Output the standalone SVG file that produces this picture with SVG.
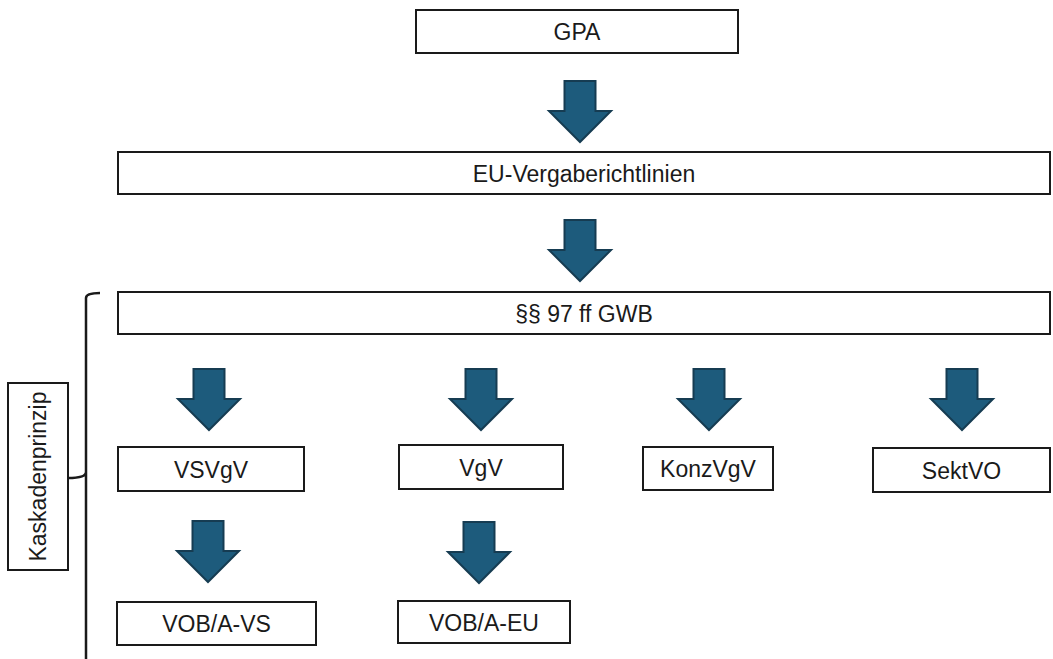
<svg xmlns="http://www.w3.org/2000/svg" width="1053" height="659" viewBox="0 0 1053 659">
<style>
.box{fill:#fff;stroke:#1a1a1a;stroke-width:2}
.lbl{font-family:"Liberation Sans",Arial,sans-serif;font-size:23px;fill:#1a1a1a;text-anchor:middle}
.arr{fill:#1d5b7c;stroke:#163c52;stroke-width:2;stroke-linejoin:miter}
.br{fill:none;stroke:#1a1a1a;stroke-width:2.5}
</style>
<defs>
<path id="dn" class="arr" d="M-15.5,0 H15.5 V30 H31 L0,61 L-31,30 H-15.5 Z"/>
</defs>
<rect width="1053" height="659" fill="#fff"/>
<g id="connectors">
<use href="#dn" x="580" y="81"/>
<use href="#dn" x="580" y="220"/>
<use href="#dn" x="209" y="369"/>
<use href="#dn" x="481" y="369"/>
<use href="#dn" x="709" y="369"/>
<use href="#dn" x="962" y="369"/>
<use href="#dn" x="208" y="521"/>
<use href="#dn" x="479" y="522"/>
<path class="br" d="M100,293 Q86,293 86,298 V472 Q86,478 68,478 M86,472 Q86,478 86,484 V659"/>
</g>
<g id="gpa"><rect class="box" x="416" y="10" width="322" height="43"/><text class="lbl" x="577" y="40">GPA</text></g>
<g id="eu"><rect class="box" x="118" y="152" width="932" height="42"/><text class="lbl" x="584" y="181.5">EU-Vergaberichtlinien</text></g>
<g id="gwb"><rect class="box" x="118" y="292" width="932" height="42"/><text class="lbl" x="584" y="321.5">§§ 97 ff GWB</text></g>
<g id="vsvgv"><rect class="box" x="118" y="447" width="186" height="44"/><text class="lbl" x="211" y="477.5">VSVgV</text></g>
<g id="vgv"><rect class="box" x="399" y="445" width="164" height="44"/><text class="lbl" x="481" y="475.5">VgV</text></g>
<g id="konzvgv"><rect class="box" x="643" y="447" width="130" height="43"/><text class="lbl" x="708" y="477">KonzVgV</text></g>
<g id="sektvo"><rect class="box" x="873" y="448" width="177" height="44"/><text class="lbl" x="961.5" y="478.5">SektVO</text></g>
<g id="vobavs"><rect class="box" x="117" y="602" width="199" height="43"/><text class="lbl" x="216.5" y="632">VOB/A-VS</text></g>
<g id="vobaeu"><rect class="box" x="398" y="601" width="172" height="42"/><text class="lbl" x="484" y="630.5">VOB/A-EU</text></g>
<g id="kaskade"><rect class="box" x="8" y="383" width="60" height="187"/><text class="lbl" transform="translate(46,476.5) rotate(-90)">Kaskadenprinzip</text></g>
</svg>
